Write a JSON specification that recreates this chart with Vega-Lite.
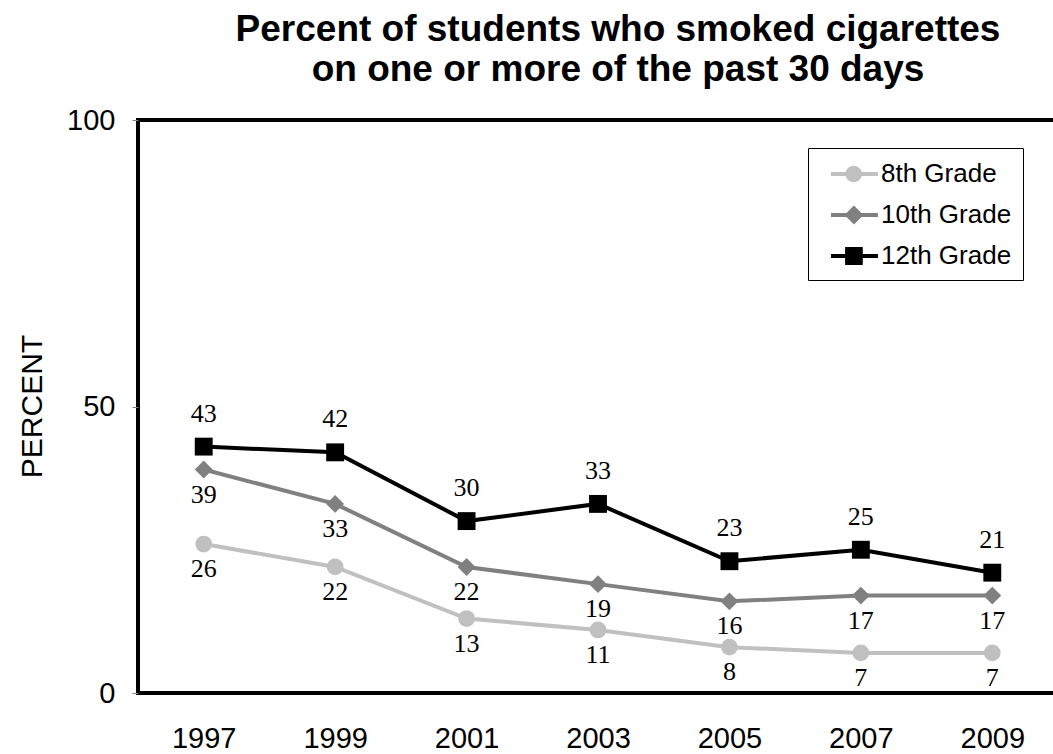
{
  "$schema": "https://vega.github.io/schema/vega-lite/v6.json",
  "autosize": {"type": "none"},
  "padding": {"left": 138, "top": 120, "right": 0, "bottom": 61},
  "width": 920,
  "height": 573,
  "background": "white",
  "title": {
    "text": ["Percent of students who smoked cigarettes", "on one or more of the past 30 days"],
    "font": "Liberation Sans",
    "fontSize": 37,
    "fontWeight": "bold",
    "color": "black",
    "lineHeight": 40,
    "anchor": "middle",
    "frame": "group",
    "dx": 20,
    "offset": 17
  },
  "config": {
    "view": {"stroke": "black", "strokeWidth": 4},
    "font": "Liberation Sans"
  },
  "data": {
    "values": [
      {"Year": "1997", "Grade": "8th Grade", "Percent": 26},
      {"Year": "1999", "Grade": "8th Grade", "Percent": 22},
      {"Year": "2001", "Grade": "8th Grade", "Percent": 13},
      {"Year": "2003", "Grade": "8th Grade", "Percent": 11},
      {"Year": "2005", "Grade": "8th Grade", "Percent": 8},
      {"Year": "2007", "Grade": "8th Grade", "Percent": 7},
      {"Year": "2009", "Grade": "8th Grade", "Percent": 7},
      {"Year": "1997", "Grade": "10th Grade", "Percent": 39},
      {"Year": "1999", "Grade": "10th Grade", "Percent": 33},
      {"Year": "2001", "Grade": "10th Grade", "Percent": 22},
      {"Year": "2003", "Grade": "10th Grade", "Percent": 19},
      {"Year": "2005", "Grade": "10th Grade", "Percent": 16},
      {"Year": "2007", "Grade": "10th Grade", "Percent": 17},
      {"Year": "2009", "Grade": "10th Grade", "Percent": 17},
      {"Year": "1997", "Grade": "12th Grade", "Percent": 43},
      {"Year": "1999", "Grade": "12th Grade", "Percent": 42},
      {"Year": "2001", "Grade": "12th Grade", "Percent": 30},
      {"Year": "2003", "Grade": "12th Grade", "Percent": 33},
      {"Year": "2005", "Grade": "12th Grade", "Percent": 23},
      {"Year": "2007", "Grade": "12th Grade", "Percent": 25},
      {"Year": "2009", "Grade": "12th Grade", "Percent": 21}
    ]
  },
  "encoding": {
    "x": {
      "field": "Year", "type": "ordinal",
      "scale": {"type": "point", "padding": 0.5},
      "axis": {
        "title": null, "domain": false, "ticks": false, "labelAngle": 0,
        "labelFont": "Liberation Sans", "labelFontSize": 29, "labelColor": "black",
        "labelPadding": 31, "labelBaseline": "top"
      }
    },
    "y": {
      "field": "Percent", "type": "quantitative",
      "scale": {"domain": [0, 100], "nice": false},
      "axis": {
        "title": "PERCENT", "values": [0, 50, 100], "grid": false, "domain": false,
        "tickColor": "#808080", "tickSize": 6, "tickWidth": 1,
        "labelFont": "Liberation Sans", "labelFontSize": 29, "labelColor": "black",
        "labelPadding": 17,
        "titleFont": "Liberation Sans", "titleFontSize": 30, "titleFontWeight": "normal",
        "titleColor": "black", "titleAngle": -90, "titleX": -106, "titleY": 286,
        "titleAlign": "center", "titleBaseline": "middle"
      }
    },
    "color": {
      "field": "Grade", "type": "nominal",
      "scale": {"domain": ["8th Grade", "10th Grade", "12th Grade"], "range": ["#c0c0c0", "#808080", "#000000"]},
      "legend": {
        "title": null,
        "orient": "none",
        "legendX": 670,
        "legendY": 28,
        "padding": 11,
        "strokeColor": "black",
        "fillColor": "white",
        "symbolSize": 900,
        "symbolStrokeWidth": 0,
        "rowPadding": 13,
        "labelOffset": 32,
        "labelFont": "Liberation Sans",
        "labelFontSize": 26,
        "labelColor": "black",
        "labelLimit": 300
      }
    }
  },
  "layer": [
    {
      "mark": {"type": "line", "strokeWidth": 4}
    },
    {
      "transform": [{"filter": "datum.Percent < 0"}],
      "mark": {"type": "point", "filled": true, "opacity": 1, "size": 900},
      "encoding": {
        "shape": {
          "field": "Grade", "type": "nominal",
          "scale": {
            "domain": ["8th Grade", "10th Grade", "12th Grade"],
            "range": [
              "M-0.2,-0.13L2.93,-0.13L2.93,0.13L-0.2,0.13Z M0.76,0A0.55,0.55,0,1,1,1.86,0A0.55,0.55,0,1,1,0.76,0Z",
              "M-0.2,-0.13L2.93,-0.13L2.93,0.13L-0.2,0.13Z M0.7,0L1.33,-0.63L1.96,0L1.33,0.63Z",
              "M-0.2,-0.13L2.93,-0.13L2.93,0.13L-0.2,0.13Z M0.74,-0.6L1.92,-0.6L1.92,0.6L0.74,0.6Z"
            ]
          }
        }
      }
    },
    {
      "transform": [{"filter": "datum.Grade === '8th Grade'"}],
      "mark": {"type": "point", "filled": true, "opacity": 1, "size": 280, "shape": "circle"}
    },
    {
      "transform": [{"filter": "datum.Grade === '10th Grade'"}],
      "mark": {"type": "point", "filled": true, "opacity": 1, "size": 320, "shape": "diamond"}
    },
    {
      "transform": [{"filter": "datum.Grade === '12th Grade'"}],
      "mark": {"type": "point", "filled": true, "opacity": 1, "size": 320, "shape": "square"}
    },
    {
      "transform": [{"filter": "datum.Grade === '12th Grade'"}],
      "mark": {"type": "text", "dy": -33, "font": "Liberation Serif", "fontSize": 26},
      "encoding": {"text": {"field": "Percent", "type": "quantitative"}, "color": {"value": "black"}}
    },
    {
      "transform": [{"filter": "datum.Grade !== '12th Grade'"}],
      "mark": {"type": "text", "dy": 25, "font": "Liberation Serif", "fontSize": 26},
      "encoding": {"text": {"field": "Percent", "type": "quantitative"}, "color": {"value": "black"}}
    }
  ]
}
